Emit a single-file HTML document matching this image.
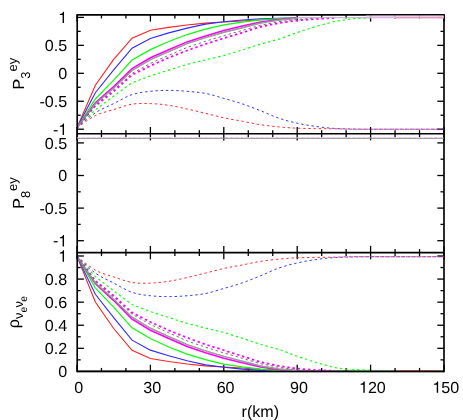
<!DOCTYPE html>
<html><head><meta charset="utf-8"><style>
html,body{margin:0;padding:0;background:#fff;overflow:hidden;}
svg{display:block;position:absolute;left:0;top:0;font-family:"Liberation Sans",sans-serif;fill:#000;text-rendering:geometricPrecision;will-change:transform;}
</style></head><body>
<svg width="463" height="420" viewBox="0 0 463 420">
<defs>
<clipPath id="c1"><rect x="78.0" y="14.9" width="366.0" height="118.8"/></clipPath>
<clipPath id="c3"><rect x="78.0" y="252.6" width="366.0" height="119.8"/></clipPath>
</defs>
<rect width="463" height="420" fill="#fff"/>
<line x1="77.20" y1="14.08" x2="77.20" y2="372.22" stroke="#000" stroke-width="1.65"/>
<line x1="444.00" y1="14.08" x2="444.00" y2="372.22" stroke="#000" stroke-width="1.65"/>
<line x1="77.20" y1="14.90" x2="444.00" y2="14.90" stroke="#000" stroke-width="1.65"/>
<line x1="77.20" y1="133.70" x2="444.00" y2="133.70" stroke="#000" stroke-width="1.65"/>
<line x1="77.20" y1="252.60" x2="444.00" y2="252.60" stroke="#000" stroke-width="1.65"/>
<line x1="77.20" y1="371.40" x2="444.00" y2="371.40" stroke="#000" stroke-width="1.65"/>
<line x1="77.00" y1="14.90" x2="77.00" y2="21.60" stroke="#000" stroke-width="1.3"/>
<line x1="77.00" y1="127.00" x2="77.00" y2="140.40" stroke="#000" stroke-width="1.3"/>
<line x1="77.00" y1="245.90" x2="77.00" y2="259.30" stroke="#000" stroke-width="1.3"/>
<line x1="77.00" y1="364.70" x2="77.00" y2="371.40" stroke="#000" stroke-width="1.3"/>
<line x1="101.47" y1="14.90" x2="101.47" y2="18.40" stroke="#000" stroke-width="1.3"/>
<line x1="101.47" y1="130.20" x2="101.47" y2="137.20" stroke="#000" stroke-width="1.3"/>
<line x1="101.47" y1="249.10" x2="101.47" y2="256.10" stroke="#000" stroke-width="1.3"/>
<line x1="101.47" y1="367.90" x2="101.47" y2="371.40" stroke="#000" stroke-width="1.3"/>
<line x1="125.93" y1="14.90" x2="125.93" y2="18.40" stroke="#000" stroke-width="1.3"/>
<line x1="125.93" y1="130.20" x2="125.93" y2="137.20" stroke="#000" stroke-width="1.3"/>
<line x1="125.93" y1="249.10" x2="125.93" y2="256.10" stroke="#000" stroke-width="1.3"/>
<line x1="125.93" y1="367.90" x2="125.93" y2="371.40" stroke="#000" stroke-width="1.3"/>
<line x1="150.40" y1="14.90" x2="150.40" y2="21.60" stroke="#000" stroke-width="1.3"/>
<line x1="150.40" y1="127.00" x2="150.40" y2="140.40" stroke="#000" stroke-width="1.3"/>
<line x1="150.40" y1="245.90" x2="150.40" y2="259.30" stroke="#000" stroke-width="1.3"/>
<line x1="150.40" y1="364.70" x2="150.40" y2="371.40" stroke="#000" stroke-width="1.3"/>
<line x1="174.87" y1="14.90" x2="174.87" y2="18.40" stroke="#000" stroke-width="1.3"/>
<line x1="174.87" y1="130.20" x2="174.87" y2="137.20" stroke="#000" stroke-width="1.3"/>
<line x1="174.87" y1="249.10" x2="174.87" y2="256.10" stroke="#000" stroke-width="1.3"/>
<line x1="174.87" y1="367.90" x2="174.87" y2="371.40" stroke="#000" stroke-width="1.3"/>
<line x1="199.33" y1="14.90" x2="199.33" y2="18.40" stroke="#000" stroke-width="1.3"/>
<line x1="199.33" y1="130.20" x2="199.33" y2="137.20" stroke="#000" stroke-width="1.3"/>
<line x1="199.33" y1="249.10" x2="199.33" y2="256.10" stroke="#000" stroke-width="1.3"/>
<line x1="199.33" y1="367.90" x2="199.33" y2="371.40" stroke="#000" stroke-width="1.3"/>
<line x1="223.80" y1="14.90" x2="223.80" y2="21.60" stroke="#000" stroke-width="1.3"/>
<line x1="223.80" y1="127.00" x2="223.80" y2="140.40" stroke="#000" stroke-width="1.3"/>
<line x1="223.80" y1="245.90" x2="223.80" y2="259.30" stroke="#000" stroke-width="1.3"/>
<line x1="223.80" y1="364.70" x2="223.80" y2="371.40" stroke="#000" stroke-width="1.3"/>
<line x1="248.27" y1="14.90" x2="248.27" y2="18.40" stroke="#000" stroke-width="1.3"/>
<line x1="248.27" y1="130.20" x2="248.27" y2="137.20" stroke="#000" stroke-width="1.3"/>
<line x1="248.27" y1="249.10" x2="248.27" y2="256.10" stroke="#000" stroke-width="1.3"/>
<line x1="248.27" y1="367.90" x2="248.27" y2="371.40" stroke="#000" stroke-width="1.3"/>
<line x1="272.73" y1="14.90" x2="272.73" y2="18.40" stroke="#000" stroke-width="1.3"/>
<line x1="272.73" y1="130.20" x2="272.73" y2="137.20" stroke="#000" stroke-width="1.3"/>
<line x1="272.73" y1="249.10" x2="272.73" y2="256.10" stroke="#000" stroke-width="1.3"/>
<line x1="272.73" y1="367.90" x2="272.73" y2="371.40" stroke="#000" stroke-width="1.3"/>
<line x1="297.20" y1="14.90" x2="297.20" y2="21.60" stroke="#000" stroke-width="1.3"/>
<line x1="297.20" y1="127.00" x2="297.20" y2="140.40" stroke="#000" stroke-width="1.3"/>
<line x1="297.20" y1="245.90" x2="297.20" y2="259.30" stroke="#000" stroke-width="1.3"/>
<line x1="297.20" y1="364.70" x2="297.20" y2="371.40" stroke="#000" stroke-width="1.3"/>
<line x1="321.67" y1="14.90" x2="321.67" y2="18.40" stroke="#000" stroke-width="1.3"/>
<line x1="321.67" y1="130.20" x2="321.67" y2="137.20" stroke="#000" stroke-width="1.3"/>
<line x1="321.67" y1="249.10" x2="321.67" y2="256.10" stroke="#000" stroke-width="1.3"/>
<line x1="321.67" y1="367.90" x2="321.67" y2="371.40" stroke="#000" stroke-width="1.3"/>
<line x1="346.13" y1="14.90" x2="346.13" y2="18.40" stroke="#000" stroke-width="1.3"/>
<line x1="346.13" y1="130.20" x2="346.13" y2="137.20" stroke="#000" stroke-width="1.3"/>
<line x1="346.13" y1="249.10" x2="346.13" y2="256.10" stroke="#000" stroke-width="1.3"/>
<line x1="346.13" y1="367.90" x2="346.13" y2="371.40" stroke="#000" stroke-width="1.3"/>
<line x1="370.60" y1="14.90" x2="370.60" y2="21.60" stroke="#000" stroke-width="1.3"/>
<line x1="370.60" y1="127.00" x2="370.60" y2="140.40" stroke="#000" stroke-width="1.3"/>
<line x1="370.60" y1="245.90" x2="370.60" y2="259.30" stroke="#000" stroke-width="1.3"/>
<line x1="370.60" y1="364.70" x2="370.60" y2="371.40" stroke="#000" stroke-width="1.3"/>
<line x1="395.07" y1="14.90" x2="395.07" y2="18.40" stroke="#000" stroke-width="1.3"/>
<line x1="395.07" y1="130.20" x2="395.07" y2="137.20" stroke="#000" stroke-width="1.3"/>
<line x1="395.07" y1="249.10" x2="395.07" y2="256.10" stroke="#000" stroke-width="1.3"/>
<line x1="395.07" y1="367.90" x2="395.07" y2="371.40" stroke="#000" stroke-width="1.3"/>
<line x1="419.53" y1="14.90" x2="419.53" y2="18.40" stroke="#000" stroke-width="1.3"/>
<line x1="419.53" y1="130.20" x2="419.53" y2="137.20" stroke="#000" stroke-width="1.3"/>
<line x1="419.53" y1="249.10" x2="419.53" y2="256.10" stroke="#000" stroke-width="1.3"/>
<line x1="419.53" y1="367.90" x2="419.53" y2="371.40" stroke="#000" stroke-width="1.3"/>
<line x1="444.00" y1="14.90" x2="444.00" y2="21.60" stroke="#000" stroke-width="1.3"/>
<line x1="444.00" y1="127.00" x2="444.00" y2="140.40" stroke="#000" stroke-width="1.3"/>
<line x1="444.00" y1="245.90" x2="444.00" y2="259.30" stroke="#000" stroke-width="1.3"/>
<line x1="444.00" y1="364.70" x2="444.00" y2="371.40" stroke="#000" stroke-width="1.3"/>
<line x1="77.20" y1="17.40" x2="83.90" y2="17.40" stroke="#000" stroke-width="1.3"/>
<line x1="437.30" y1="17.40" x2="444.00" y2="17.40" stroke="#000" stroke-width="1.3"/>
<line x1="77.20" y1="45.35" x2="83.90" y2="45.35" stroke="#000" stroke-width="1.3"/>
<line x1="437.30" y1="45.35" x2="444.00" y2="45.35" stroke="#000" stroke-width="1.3"/>
<line x1="77.20" y1="73.30" x2="83.90" y2="73.30" stroke="#000" stroke-width="1.3"/>
<line x1="437.30" y1="73.30" x2="444.00" y2="73.30" stroke="#000" stroke-width="1.3"/>
<line x1="77.20" y1="101.25" x2="83.90" y2="101.25" stroke="#000" stroke-width="1.3"/>
<line x1="437.30" y1="101.25" x2="444.00" y2="101.25" stroke="#000" stroke-width="1.3"/>
<line x1="77.20" y1="129.20" x2="83.90" y2="129.20" stroke="#000" stroke-width="1.3"/>
<line x1="437.30" y1="129.20" x2="444.00" y2="129.20" stroke="#000" stroke-width="1.3"/>
<line x1="77.20" y1="31.38" x2="80.70" y2="31.38" stroke="#000" stroke-width="1.3"/>
<line x1="440.50" y1="31.38" x2="444.00" y2="31.38" stroke="#000" stroke-width="1.3"/>
<line x1="77.20" y1="59.32" x2="80.70" y2="59.32" stroke="#000" stroke-width="1.3"/>
<line x1="440.50" y1="59.32" x2="444.00" y2="59.32" stroke="#000" stroke-width="1.3"/>
<line x1="77.20" y1="87.28" x2="80.70" y2="87.28" stroke="#000" stroke-width="1.3"/>
<line x1="440.50" y1="87.28" x2="444.00" y2="87.28" stroke="#000" stroke-width="1.3"/>
<line x1="77.20" y1="115.22" x2="80.70" y2="115.22" stroke="#000" stroke-width="1.3"/>
<line x1="440.50" y1="115.22" x2="444.00" y2="115.22" stroke="#000" stroke-width="1.3"/>
<line x1="77.20" y1="142.90" x2="83.90" y2="142.90" stroke="#000" stroke-width="1.3"/>
<line x1="437.30" y1="142.90" x2="444.00" y2="142.90" stroke="#000" stroke-width="1.3"/>
<line x1="77.20" y1="175.50" x2="83.90" y2="175.50" stroke="#000" stroke-width="1.3"/>
<line x1="437.30" y1="175.50" x2="444.00" y2="175.50" stroke="#000" stroke-width="1.3"/>
<line x1="77.20" y1="208.10" x2="83.90" y2="208.10" stroke="#000" stroke-width="1.3"/>
<line x1="437.30" y1="208.10" x2="444.00" y2="208.10" stroke="#000" stroke-width="1.3"/>
<line x1="77.20" y1="240.70" x2="83.90" y2="240.70" stroke="#000" stroke-width="1.3"/>
<line x1="437.30" y1="240.70" x2="444.00" y2="240.70" stroke="#000" stroke-width="1.3"/>
<line x1="77.20" y1="159.20" x2="80.70" y2="159.20" stroke="#000" stroke-width="1.3"/>
<line x1="440.50" y1="159.20" x2="444.00" y2="159.20" stroke="#000" stroke-width="1.3"/>
<line x1="77.20" y1="191.80" x2="80.70" y2="191.80" stroke="#000" stroke-width="1.3"/>
<line x1="440.50" y1="191.80" x2="444.00" y2="191.80" stroke="#000" stroke-width="1.3"/>
<line x1="77.20" y1="224.40" x2="80.70" y2="224.40" stroke="#000" stroke-width="1.3"/>
<line x1="440.50" y1="224.40" x2="444.00" y2="224.40" stroke="#000" stroke-width="1.3"/>
<line x1="77.20" y1="348.32" x2="83.90" y2="348.32" stroke="#000" stroke-width="1.3"/>
<line x1="437.30" y1="348.32" x2="444.00" y2="348.32" stroke="#000" stroke-width="1.3"/>
<line x1="77.20" y1="325.24" x2="83.90" y2="325.24" stroke="#000" stroke-width="1.3"/>
<line x1="437.30" y1="325.24" x2="444.00" y2="325.24" stroke="#000" stroke-width="1.3"/>
<line x1="77.20" y1="302.16" x2="83.90" y2="302.16" stroke="#000" stroke-width="1.3"/>
<line x1="437.30" y1="302.16" x2="444.00" y2="302.16" stroke="#000" stroke-width="1.3"/>
<line x1="77.20" y1="279.08" x2="83.90" y2="279.08" stroke="#000" stroke-width="1.3"/>
<line x1="437.30" y1="279.08" x2="444.00" y2="279.08" stroke="#000" stroke-width="1.3"/>
<line x1="77.20" y1="256.00" x2="83.90" y2="256.00" stroke="#000" stroke-width="1.3"/>
<line x1="437.30" y1="256.00" x2="444.00" y2="256.00" stroke="#000" stroke-width="1.3"/>
<line x1="77.20" y1="359.86" x2="80.70" y2="359.86" stroke="#000" stroke-width="1.3"/>
<line x1="440.50" y1="359.86" x2="444.00" y2="359.86" stroke="#000" stroke-width="1.3"/>
<line x1="77.20" y1="336.78" x2="80.70" y2="336.78" stroke="#000" stroke-width="1.3"/>
<line x1="440.50" y1="336.78" x2="444.00" y2="336.78" stroke="#000" stroke-width="1.3"/>
<line x1="77.20" y1="313.70" x2="80.70" y2="313.70" stroke="#000" stroke-width="1.3"/>
<line x1="440.50" y1="313.70" x2="444.00" y2="313.70" stroke="#000" stroke-width="1.3"/>
<line x1="77.20" y1="290.62" x2="80.70" y2="290.62" stroke="#000" stroke-width="1.3"/>
<line x1="440.50" y1="290.62" x2="444.00" y2="290.62" stroke="#000" stroke-width="1.3"/>
<line x1="77.20" y1="267.54" x2="80.70" y2="267.54" stroke="#000" stroke-width="1.3"/>
<line x1="440.50" y1="267.54" x2="444.00" y2="267.54" stroke="#000" stroke-width="1.3"/>
<g clip-path="url(#c1)">
<path d="M77.00 127.70 L95.35 85.25 L113.70 59.46 L132.05 38.26 L150.40 30.30 L168.75 27.40 L187.10 25.00 L205.45 23.10 L223.80 22.00 L242.15 21.05 L260.50 19.76 L278.85 19.06 L297.20 18.40" fill="none" stroke="#ff2020" stroke-width="1.1"/>
<path d="M77.00 127.70 C80.06 125.68 89.23 118.62 95.35 115.60 C101.47 112.58 107.58 111.50 113.70 109.60 C119.82 107.70 125.93 105.20 132.05 104.20 C138.17 103.20 144.28 103.42 150.40 103.60 C156.52 103.78 162.63 104.40 168.75 105.30 C174.87 106.20 180.98 107.67 187.10 109.00 C193.22 110.33 199.33 111.83 205.45 113.30 C211.57 114.77 217.68 116.48 223.80 117.80 C229.92 119.12 236.03 120.05 242.15 121.20 C248.27 122.35 254.38 123.75 260.50 124.70 C266.62 125.65 272.73 126.32 278.85 126.90 C284.97 127.48 291.08 127.92 297.20 128.20 C303.32 128.48 309.43 128.50 315.55 128.60 C321.67 128.70 327.78 128.70 333.90 128.80 C340.02 128.90 346.13 129.13 352.25 129.20 C358.37 129.27 364.48 129.20 370.60 129.20 C376.72 129.20 382.83 129.20 388.95 129.20 C395.07 129.20 401.18 129.20 407.30 129.20 C413.42 129.20 419.53 129.20 425.65 129.20 C431.77 129.20 440.94 129.20 444.00 129.20" fill="none" stroke="#ff2020" stroke-width="0.95" stroke-dasharray="2.4 2.8"/>
<path d="M77.00 127.70 L95.35 92.74 L113.70 69.94 L132.05 48.14 L150.40 38.40 L168.75 32.90 L187.10 28.10 L205.45 24.10 L223.80 21.80 L242.15 20.00 L260.50 18.78 L278.85 18.28 L297.20 17.80" fill="none" stroke="#2c2cff" stroke-width="1.1"/>
<path d="M77.00 127.70 C80.06 125.22 89.23 116.82 95.35 112.80 C101.47 108.78 107.58 106.63 113.70 103.60 C119.82 100.57 125.93 96.65 132.05 94.60 C138.17 92.55 144.28 92.00 150.40 91.30 C156.52 90.60 162.63 90.40 168.75 90.40 C174.87 90.40 180.98 90.80 187.10 91.30 C193.22 91.80 199.33 92.22 205.45 93.40 C211.57 94.58 217.68 96.67 223.80 98.40 C229.92 100.13 236.03 101.75 242.15 103.80 C248.27 105.85 254.38 108.30 260.50 110.70 C266.62 113.10 272.73 116.12 278.85 118.20 C284.97 120.28 291.08 121.83 297.20 123.20 C303.32 124.57 309.43 125.53 315.55 126.40 C321.67 127.27 327.78 127.97 333.90 128.40 C340.02 128.83 346.13 128.87 352.25 129.00 C358.37 129.13 364.48 129.17 370.60 129.20 C376.72 129.23 382.83 129.20 388.95 129.20 C395.07 129.20 401.18 129.20 407.30 129.20 C413.42 129.20 419.53 129.20 425.65 129.20 C431.77 129.20 440.94 129.20 444.00 129.20" fill="none" stroke="#2c2cff" stroke-width="0.95" stroke-dasharray="2.4 2.8"/>
<path d="M77.00 127.70 L95.35 98.98 L113.70 80.18 L132.05 60.08 L150.40 49.65 L168.75 41.45 L187.10 34.55 L205.45 29.15 L223.80 24.85 L242.15 22.12 L260.50 19.89 L278.85 18.59 L297.20 17.80" fill="none" stroke="#08ff08" stroke-width="1.2"/>
<path d="M77.00 127.70 L95.35 109.87 L113.70 96.06 L132.05 82.77 L150.40 75.90 L168.75 70.10 L187.10 64.40 L205.45 59.90 L223.80 55.60 L242.15 50.05 L260.50 44.08 L278.85 39.18 L297.20 32.50 L315.55 26.60 L333.90 21.60 L352.25 18.80 L370.60 17.90" fill="none" stroke="#08ff08" stroke-width="1.15" stroke-dasharray="2.4 2.8"/>
<path d="M77.00 127.70 L95.35 102.89 L113.70 86.59 L132.05 68.50 L150.40 57.80 L168.75 49.70 L187.10 41.90 L205.45 35.90 L223.80 30.50 L242.15 26.05 L260.50 22.04 L278.85 19.44 L297.20 17.90" fill="none" stroke="#ff00ff" stroke-width="1.55"/>
<path d="M77.00 127.70 L95.35 105.82 L113.70 91.32 L132.05 74.92 L150.40 65.80 L168.75 57.70 L187.10 50.50 L205.45 44.00 L223.80 38.30 L242.15 32.60 L260.50 26.84 L278.85 23.04 L297.20 20.40 L315.55 19.00 L333.90 18.10" fill="none" stroke="#ff00ff" stroke-width="1.8" stroke-dasharray="2.4 2.8"/>
<path d="M77.00 127.70 L95.35 103.77 L113.70 87.97 L132.05 70.47 L150.40 59.70 L168.75 51.60 L187.10 43.70 L205.45 37.70 L223.80 32.30 L242.15 27.75 L260.50 22.98 L278.85 20.08 L297.20 18.10" fill="none" stroke="#787878" stroke-width="1.4"/>
<path d="M77.00 127.70 L95.35 103.77 L113.70 87.97 L132.05 70.47 L150.40 59.70 L168.75 51.60 L187.10 43.70 L205.45 37.70 L223.80 32.30 L242.15 27.75 L260.50 22.98 L278.85 20.08 L297.20 18.10" fill="none" stroke="#dde6dd" stroke-width="0.4"/>
<path d="M77.00 127.70 L95.35 104.95 L113.70 89.85 L132.05 73.35 L150.40 63.40 L168.75 55.30 L187.10 47.40 L205.45 41.30 L223.80 35.70 L242.15 30.50 L260.50 25.20 L278.85 21.70 L297.20 19.40 L315.55 18.30" fill="none" stroke="#707070" stroke-width="1.0" stroke-dasharray="2.4 2.8"/>
<line x1="296.2" x2="368.0" y1="17.75" y2="17.75" stroke="#b9a5c6" stroke-width="1.1"/>
<line x1="366.0" x2="444.0" y1="16.15" y2="16.15" stroke="#dfb8e8" stroke-width="1.25"/>
<line x1="366.0" x2="444.0" y1="17.65" y2="17.65" stroke="#d9a9da" stroke-width="1.1"/>
<line x1="366.0" x2="444.0" y1="16.90" y2="16.90" stroke="#f0def4" stroke-width="0.6"/>
<line x1="396.0" x2="444.0" y1="17.75" y2="17.75" stroke="#ee8eaa" stroke-width="1.0"/>
</g>
<line x1="77.2" x2="444.0" y1="138.30" y2="138.30" stroke="#8e8490" stroke-width="1.0"/>
<line x1="77.2" x2="444.0" y1="137.5" y2="137.5" stroke="#efb2ef" stroke-width="0.8" stroke-dasharray="2.6 2.5"/>
<g clip-path="url(#c3)">
<path d="M77.00 256.40 L95.35 301.95 L113.70 328.49 L132.05 350.30 L150.40 358.48 L168.75 361.46 L187.10 363.93 L205.45 365.89 L223.80 367.02 L242.15 368.00 L260.50 369.32 L278.85 370.04 L297.20 370.72" fill="none" stroke="#ff2020" stroke-width="1.1"/>
<path d="M77.00 256.40 C80.06 258.69 89.23 266.72 95.35 270.14 C101.47 273.56 107.58 274.86 113.70 276.91 C119.82 278.97 125.93 281.44 132.05 282.47 C138.17 283.50 144.28 283.27 150.40 283.08 C156.52 282.90 162.63 282.26 168.75 281.34 C174.87 280.41 180.98 278.90 187.10 277.53 C193.22 276.16 199.33 274.62 205.45 273.11 C211.57 271.60 217.68 269.83 223.80 268.48 C229.92 267.12 236.03 266.16 242.15 264.98 C248.27 263.80 254.38 262.36 260.50 261.38 C266.62 260.40 272.73 259.72 278.85 259.12 C284.97 258.52 291.08 258.07 297.20 257.78 C303.32 257.49 309.43 257.47 315.55 257.37 C321.67 257.27 327.78 257.27 333.90 257.16 C340.02 257.06 346.13 256.82 352.25 256.75 C358.37 256.68 364.48 256.75 370.60 256.75 C376.72 256.75 382.83 256.75 388.95 256.75 C395.07 256.75 401.18 256.75 407.30 256.75 C413.42 256.75 419.53 256.75 425.65 256.75 C431.77 256.75 440.94 256.75 444.00 256.75" fill="none" stroke="#ff2020" stroke-width="0.95" stroke-dasharray="2.4 2.8"/>
<path d="M77.00 256.40 L95.35 294.26 L113.70 317.71 L132.05 340.13 L150.40 350.15 L168.75 355.81 L187.10 360.74 L205.45 364.86 L223.80 367.22 L242.15 369.08 L260.50 370.33 L278.85 370.80 L297.20 370.80" fill="none" stroke="#2c2cff" stroke-width="1.1"/>
<path d="M77.00 256.40 C80.06 259.17 89.23 268.57 95.35 273.02 C101.47 277.47 107.58 279.86 113.70 283.08 C119.82 286.30 125.93 290.23 132.05 292.34 C138.17 294.45 144.28 295.02 150.40 295.74 C156.52 296.46 162.63 296.66 168.75 296.66 C174.87 296.66 180.98 296.25 187.10 295.74 C193.22 295.22 199.33 294.79 205.45 293.58 C211.57 292.36 217.68 290.22 223.80 288.43 C229.92 286.65 236.03 284.99 242.15 282.88 C248.27 280.77 254.38 278.25 260.50 275.78 C266.62 273.31 272.73 270.21 278.85 268.07 C284.97 265.92 291.08 264.33 297.20 262.92 C303.32 261.52 309.43 260.52 315.55 259.63 C321.67 258.74 327.78 258.02 333.90 257.58 C340.02 257.13 346.13 257.10 352.25 256.96 C358.37 256.82 364.48 256.79 370.60 256.75 C376.72 256.72 382.83 256.75 388.95 256.75 C395.07 256.75 401.18 256.75 407.30 256.75 C413.42 256.75 419.53 256.75 425.65 256.75 C431.77 256.75 440.94 256.75 444.00 256.75" fill="none" stroke="#2c2cff" stroke-width="0.95" stroke-dasharray="2.4 2.8"/>
<path d="M77.00 256.40 L95.35 287.83 L113.70 307.17 L132.05 327.85 L150.40 338.58 L168.75 347.01 L187.10 354.11 L205.45 359.66 L223.80 364.09 L242.15 366.89 L260.50 369.19 L278.85 370.53 L297.20 370.80" fill="none" stroke="#08ff08" stroke-width="1.2"/>
<path d="M77.00 256.40 L95.35 276.64 L113.70 290.84 L132.05 304.52 L150.40 311.58 L168.75 317.54 L187.10 323.41 L205.45 328.03 L223.80 332.46 L242.15 338.17 L260.50 344.31 L278.85 349.35 L297.20 356.22 L315.55 362.29 L333.90 367.43 L352.25 370.31 L370.60 370.80" fill="none" stroke="#08ff08" stroke-width="1.15" stroke-dasharray="2.4 2.8"/>
<path d="M77.00 256.40 L95.35 283.81 L113.70 300.58 L132.05 319.19 L150.40 330.19 L168.75 338.53 L187.10 346.55 L205.45 352.72 L223.80 358.28 L242.15 362.85 L260.50 366.98 L278.85 369.65 L297.20 370.80" fill="none" stroke="#ff00ff" stroke-width="1.55"/>
<path d="M77.00 256.40 L95.35 280.80 L113.70 295.72 L132.05 312.58 L150.40 321.97 L168.75 330.30 L187.10 337.70 L205.45 344.39 L223.80 350.25 L242.15 356.12 L260.50 362.04 L278.85 365.95 L297.20 368.66 L315.55 370.10 L333.90 370.80" fill="none" stroke="#ff00ff" stroke-width="1.8" stroke-dasharray="2.4 2.8"/>
<path d="M77.00 256.40 L95.35 282.91 L113.70 299.17 L132.05 317.17 L150.40 328.24 L168.75 336.57 L187.10 344.70 L205.45 350.87 L223.80 356.42 L242.15 361.10 L260.50 366.01 L278.85 368.99 L297.20 370.80" fill="none" stroke="#787878" stroke-width="1.4"/>
<path d="M77.00 256.40 L95.35 282.91 L113.70 299.17 L132.05 317.17 L150.40 328.24 L168.75 336.57 L187.10 344.70 L205.45 350.87 L223.80 356.42 L242.15 361.10 L260.50 366.01 L278.85 368.99 L297.20 370.80" fill="none" stroke="#dde6dd" stroke-width="0.4"/>
<path d="M77.00 256.40 L95.35 281.70 L113.70 297.23 L132.05 314.20 L150.40 324.43 L168.75 332.77 L187.10 340.89 L205.45 347.17 L223.80 352.93 L242.15 358.28 L260.50 363.73 L278.85 367.33 L297.20 369.69 L315.55 370.80" fill="none" stroke="#707070" stroke-width="1.0" stroke-dasharray="2.4 2.8"/>
<line x1="77.2" x2="444.0" y1="371.40" y2="371.40" stroke="#000" stroke-width="1.5"/>
<path d="M352 369.3 L371 370.1" fill="none" stroke="#08ff08" stroke-width="1.0" stroke-dasharray="2.4 2.8" stroke-opacity="0.85"/>
<path d="M372.2 370.2 L392 370.4" fill="none" stroke="#08ff08" stroke-width="0.8" stroke-dasharray="2.4 2.8" stroke-opacity="0.35"/>
<line x1="398.0" x2="438.0" y1="370.70" y2="370.70" stroke="#d02020" stroke-width="0.6" stroke-opacity="0.55"/>
</g>
<path d="M62.61 23.10 L64.03 23.10 L64.03 11.69 L63.09 11.69 C62.84 12.80 61.95 13.76 59.87 13.96 L59.87 14.97 L62.61 14.97 Z" fill="#000"/>
<text x="67.20" y="51.05" font-size="16.1" text-anchor="end">0.5</text>
<text x="67.20" y="79.00" font-size="16.1" text-anchor="end">0</text>
<text x="67.20" y="106.95" font-size="16.1" text-anchor="end">-0.5</text>
<path d="M62.61 134.90 L64.03 134.90 L64.03 123.49 L63.09 123.49 C62.84 124.60 61.95 125.56 59.87 125.76 L59.87 126.77 L62.61 126.77 Z" fill="#000"/>
<text x="58.25" y="134.90" font-size="16.1" text-anchor="end">-</text>
<text x="67.20" y="148.60" font-size="16.1" text-anchor="end">0.5</text>
<text x="67.20" y="181.20" font-size="16.1" text-anchor="end">0</text>
<text x="67.20" y="213.80" font-size="16.1" text-anchor="end">-0.5</text>
<path d="M62.61 246.40 L64.03 246.40 L64.03 234.99 L63.09 234.99 C62.84 236.10 61.95 237.06 59.87 237.26 L59.87 238.27 L62.61 238.27 Z" fill="#000"/>
<text x="58.25" y="246.40" font-size="16.1" text-anchor="end">-</text>
<text x="67.20" y="377.10" font-size="16.1" text-anchor="end">0</text>
<text x="67.20" y="354.02" font-size="16.1" text-anchor="end">0.2</text>
<text x="67.20" y="330.94" font-size="16.1" text-anchor="end">0.4</text>
<text x="67.20" y="307.86" font-size="16.1" text-anchor="end">0.6</text>
<text x="67.20" y="284.78" font-size="16.1" text-anchor="end">0.8</text>
<path d="M62.61 261.70 L64.03 261.70 L64.03 250.29 L63.09 250.29 C62.84 251.40 61.95 252.36 59.87 252.56 L59.87 253.57 L62.61 253.57 Z" fill="#000"/>
<text x="78.80" y="392.80" font-size="16.1" text-anchor="middle">0</text>
<text x="152.20" y="392.80" font-size="16.1" text-anchor="middle">30</text>
<text x="225.60" y="392.80" font-size="16.1" text-anchor="middle">60</text>
<text x="299.00" y="392.80" font-size="16.1" text-anchor="middle">90</text>
<path d="M363.34 392.80 L364.75 392.80 L364.75 381.39 L363.82 381.39 C363.56 382.50 362.68 383.46 360.60 383.66 L360.60 384.67 L363.34 384.67 Z" fill="#000"/>
<text x="367.92" y="392.80" font-size="16.1" text-anchor="start">20</text>
<path d="M436.74 392.80 L438.15 392.80 L438.15 381.39 L437.22 381.39 C436.96 382.50 436.08 383.46 434.00 383.66 L434.00 384.67 L436.74 384.67 Z" fill="#000"/>
<text x="441.32" y="392.80" font-size="16.1" text-anchor="start">50</text>
<text x="260.30" y="417.20" font-size="16.1" text-anchor="middle">r(km)</text>
<g transform="translate(24.2,89.4) rotate(-90)"><text x="0" y="0" font-size="16.1">P<tspan font-size="12.9" dy="5.8">3</tspan><tspan font-size="12.9" dy="-12.7">ey</tspan></text></g>
<g transform="translate(24.2,208.8) rotate(-90)"><text x="0" y="0" font-size="16.1">P<tspan font-size="12.9" dy="5.8">8</tspan><tspan font-size="12.9" dy="-12.7">ey</tspan></text></g>
<g transform="translate(19.0,328.2) rotate(-90)"><text x="0" y="0" font-size="16.1">ρ<tspan font-size="12.9" dy="4.4">ν</tspan><tspan font-size="10.3" dy="3.2">e</tspan><tspan font-size="12.9" dy="-3.2" dx="-0.6">ν</tspan><tspan font-size="10.3" dy="3.2" dx="-0.7">e</tspan></text></g>
</svg>
</body></html>
